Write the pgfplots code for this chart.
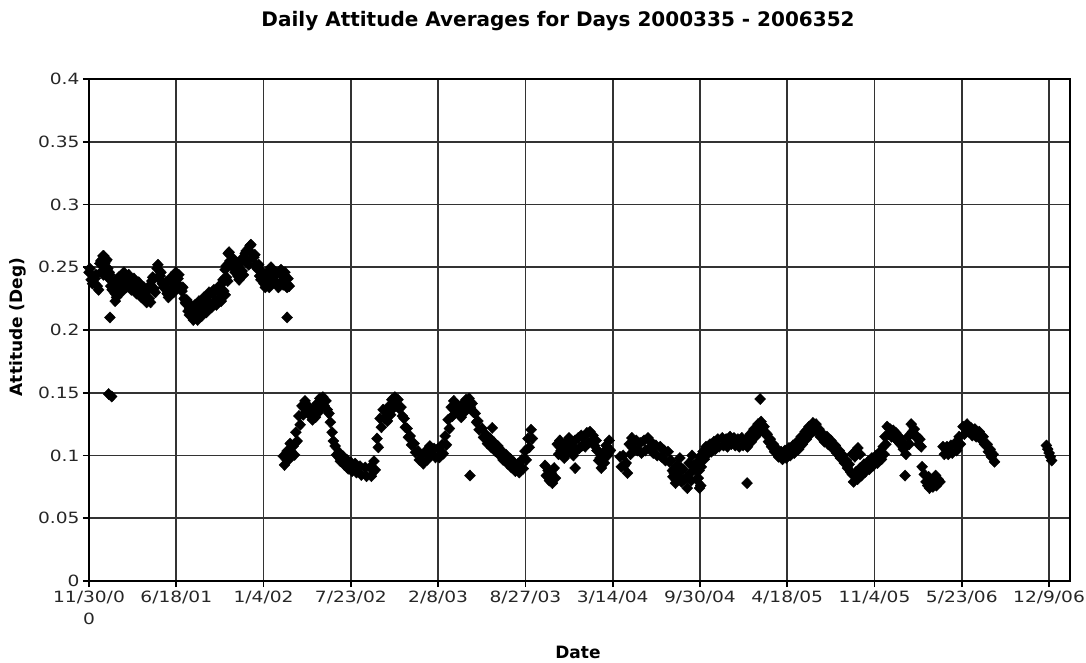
\documentclass[border=0pt]{standalone}
\usepackage{fontspec}
\setmainfont{DejaVu Sans}
\newfontfamily\tickfont{DejaVu Sans}[FakeStretch=1.2]
\usepackage{pgfplots}
\pgfplotsset{compat=1.18}
\begin{document}
\begin{tikzpicture}
\path[use as bounding box] (-89pt,-81pt) rectangle (997pt,581pt);
\begin{axis}[
  at={(0pt,0pt)}, anchor=south west,
  scale only axis, width=981pt, height=502pt,
  xmin=0, xmax=2248, ymin=0, ymax=0.4,
  xtick={0,200,400,600,800,1000,1200,1400,1600,1800,2000,2200},
  xticklabels={{11/30/0\\0},6/18/01,1/4/02,7/23/02,2/8/03,8/27/03,3/14/04,9/30/04,4/18/05,11/4/05,5/23/06,12/9/06},
  ytick={0,0.05,0.1,0.15,0.2,0.25,0.3,0.35,0.4},
  yticklabels={0,0.05,0.1,0.15,0.2,0.25,0.3,0.35,0.4},
  xticklabel style={font=\tickfont\fontsize{15.5}{22}\selectfont, align=center, text=black!85},
  yticklabel style={font=\tickfont\fontsize{15.5}{22}\selectfont, text=black!85},
  tick align=outside, tick pos=left, major tick length=6pt,
  every tick/.style={black, line width=1.7pt},
  grid=major, major grid style={black!80, line width=1.7pt},
  axis line style={black, line width=1.7pt},
  clip=false,
]
\addplot[only marks, mark=diamond*, mark size=5.6pt, black,
  mark options={xscale=1.3, fill=black, draw=black}] coordinates {
% segment 1
(0,.246)(5,.240)(14,.241)(19,.235)(25,.253)(30,.247)(32,.259)(36,.253)
(39,.255)(43,.249)(46,.241)(50,.235)(55,.235)(60,.229)(66,.239)(71,.233)
(78,.243)(83,.237)(89,.241)(94,.235)(101,.238)(106,.232)(112,.235)(117,.229)
(124,.231)(129,.225)(133,.231)(138,.225)(144,.239)(149,.233)(156,.249)(160,.243)
(163,.243)(168,.237)(174,.235)(179,.229)(186,.239)(191,.233)(197,.243)(201,.237)
(204,.241)(208,.235)(213,.231)(218,.225)(222,.221)(227,.215)(231,.217)(236,.211)
(241,.217)(246,.211)(250,.220)(255,.214)(261,.223)(266,.217)(273,.227)(278,.221)
(284,.229)(289,.223)(296,.232)(300,.226)(305,.237)(309,.231)(312,.248)(315,.242)
(319,.261)(323,.255)(328,.255)(332,.249)(337,.249)(341,.243)(346,.253)(351,.247)
(358,.261)(363,.255)(369,.267)(373,.261)(378,.258)(382,.252)(387,.249)(391,.243)
(396,.243)(401,.237)(406,.243)(410,.237)(415,.247)(420,.241)(426,.243)(431,.237)
(438,.245)(442,.239)(447,.243)(451,.237)(456,.241)(459,.235)
(2,.249)(8,.237)(16,.244)(22,.232)(27,.255)(33,.244)(34,.259)(39,.250)
(41,.256)(46,.246)(48,.244)(53,.232)(57,.238)(63,.226)(68,.242)(74,.230)
(80,.246)(86,.234)(91,.244)(97,.232)(103,.241)(109,.229)(114,.238)(120,.226)
(126,.234)(132,.222)(135,.234)(141,.222)(146,.242)(152,.230)(158,.252)(163,.240)
(165,.246)(171,.234)(176,.238)(182,.226)(188,.242)(194,.230)(199,.246)(204,.234)
(206,.244)(211,.232)(215,.234)(221,.222)(224,.224)(230,.212)(233,.220)(239,.208)
(243,.220)(249,.208)(252,.223)(258,.211)(263,.226)(269,.214)(275,.230)(281,.218)
(286,.232)(292,.220)(298,.235)(303,.223)(307,.240)(312,.228)(314,.251)(318,.239)
(321,.262)(326,.252)(330,.257)(335,.246)(339,.252)(344,.240)(348,.256)(354,.244)
(360,.263)(366,.252)(371,.268)(376,.258)(380,.260)(385,.249)(389,.252)(394,.240)
(398,.246)(404,.234)(408,.246)(413,.234)(417,.250)(423,.238)(428,.246)(434,.234)
(440,.248)(445,.236)(449,.246)(454,.234)
(45,.149)(52,.147)(48,.210)(60,.223)(454,.210)
% segment 2
(445,.0995)(448,.0925)(454,.1035)(457,.0965)(461,.1095)(464,.1025)(468,.1075)(471,.1005)
(474,.1185)(477,.1115)(481,.1315)(484,.1245)(488,.1395)(491,.1325)(495,.1435)(498,.1365)
(502,.1395)(505,.1325)(509,.1355)(512,.1285)(516,.1375)(519,.1305)(523,.1415)(526,.1345)
(529,.1455)(532,.1385)(536,.1465)(539,.1395)(543,.1435)(546,.1365)(550,.1335)(553,.1265)
(557,.1185)(560,.1115)(564,.1075)(567,.1005)(573,.1025)(576,.0955)(582,.0995)(585,.0925)
(591,.0965)(594,.0895)(600,.0945)(603,.0875)(610,.0935)(613,.0865)(621,.0915)(624,.0845)
(633,.0905)(636,.0835)(644,.0905)(647,.0835)(653,.0955)(656,.0885)(660,.1135)(663,.1065)
(667,.1295)(670,.1225)(674,.1365)(677,.1295)(681,.1345)(684,.1275)(688,.1395)(691,.1325)
(694,.1445)(697,.1375)(701,.1465)(704,.1395)(708,.1445)(711,.1375)(715,.1385)(718,.1315)
(722,.1295)(725,.1225)(729,.1215)(732,.1145)(736,.1155)(739,.1085)(745,.1095)(748,.1025)
(754,.1035)(757,.0965)(763,.1005)(766,.0935)(772,.1035)(775,.0965)(781,.1075)(784,.1005)
(791,.1055)(794,.0985)(800,.1055)(803,.0985)(809,.1085)(812,.1015)(816,.1155)(819,.1085)
(823,.1285)(826,.1215)(830,.1385)(833,.1315)(836,.1435)(839,.1365)(843,.1405)(846,.1335)
(850,.1375)(853,.1305)(857,.1415)(860,.1345)(864,.1445)(867,.1375)(871,.1455)(874,.1385)
(878,.1415)(881,.1345)(885,.1335)(888,.1265)(891,.1275)(894,.1205)(901,.1215)(904,.1145)
(910,.1165)(913,.1095)(919,.1135)(922,.1065)(928,.1105)(931,.1035)(937,.1075)(940,.1005)
(946,.1035)(949,.0965)(956,.1005)(959,.0935)(965,.0975)(968,.0905)(974,.0945)(977,.0875)
(983,.0935)(986,.0865)(992,.0965)(995,.0895)(999,.1035)(1002,.0965)(1006,.1135)(1009,.1065)
(1013,.1205)(1016,.1135)
(924,.122)(873,.084)
% segment 3
(1045,.092)(1048,.084)(1052,.088)(1055,.080)(1059,.086)(1062,.078)(1066,.090)(1069,.082)
(1073,.109)(1076,.101)(1079,.112)(1082,.104)(1086,.106)(1089,.098)(1093,.110)(1096,.102)
(1100,.114)(1103,.106)(1107,.108)(1110,.100)(1114,.112)(1117,.104)(1121,.114)(1124,.106)
(1128,.116)(1131,.108)(1134,.115)(1137,.107)(1141,.118)(1144,.110)(1148,.119)(1151,.111)
(1155,.116)(1158,.108)(1162,.112)(1164,.104)(1166,.104)(1168,.096)(1171,.098)(1174,.090)
(1178,.102)(1181,.094)(1185,.108)(1188,.100)(1192,.112)(1195,.104)
(1114,.090)
% segment 4
(1217,.099)(1220,.091)(1224,.100)(1227,.092)(1231,.094)(1234,.086)(1238,.109)(1241,.101)
(1244,.114)(1247,.106)(1254,.112)(1257,.104)(1263,.110)(1266,.102)(1272,.112)(1275,.104)
(1281,.114)(1284,.106)(1290,.110)(1293,.102)(1299,.108)(1302,.100)(1309,.107)(1312,.099)
(1318,.104)(1321,.096)(1327,.103)(1330,.095)(1334,.096)(1337,.088)(1341,.086)(1344,.078)
(1348,.092)(1351,.084)(1354,.098)(1357,.090)(1361,.089)(1364,.081)(1368,.082)(1371,.074)
(1375,.094)(1378,.086)(1382,.100)(1385,.092)(1389,.089)(1392,.081)(1396,.082)(1399,.074)
(1400,.099)(1403,.091)(1407,.103)(1410,.097)(1414,.107)(1417,.101)(1423,.109)(1426,.103)
(1338,.083)(1358,.079)(1380,.080)(1392,.094)(1398,.088)(1402,.076)
(1432,.111)(1435,.105)(1441,.113)(1444,.107)(1451,.114)(1454,.108)(1460,.113)(1463,.107)
(1469,.115)(1472,.109)(1478,.114)(1481,.108)(1487,.113)(1490,.107)(1496,.114)(1499,.108)
(1506,.113)(1509,.107)(1515,.117)(1518,.111)(1524,.121)(1527,.115)(1533,.125)(1536,.119)
(1540,.127)(1543,.121)(1547,.123)(1550,.117)(1554,.117)(1557,.111)(1561,.113)(1564,.107)
(1568,.109)(1571,.103)(1577,.105)(1580,.099)(1586,.103)(1589,.097)(1595,.104)(1598,.098)
(1604,.106)(1607,.100)(1613,.108)(1616,.102)(1623,.111)(1626,.105)(1632,.115)(1635,.109)
(1641,.119)(1644,.113)(1650,.123)(1653,.117)(1659,.126)(1662,.120)(1666,.125)(1669,.119)
(1673,.121)(1676,.115)(1682,.117)(1685,.111)(1691,.115)(1694,.109)(1700,.112)(1703,.106)
(1710,.108)(1713,.102)(1719,.104)(1722,.098)(1728,.100)(1731,.094)(1735,.096)(1738,.090)
(1742,.093)(1745,.087)
(1538,.145)(1508,.078)
(1749,.085)(1752,.079)(1758,.087)(1761,.081)(1767,.090)(1770,.084)(1776,.093)(1779,.087)
(1785,.095)(1788,.089)(1794,.098)(1797,.092)(1804,.100)(1807,.094)(1813,.103)(1816,.097)
(1820,.107)(1822,.101)
(1749,.101)(1755,.099)(1758,.104)(1762,.106)(1767,.101)
(1824,.115)(1826,.109)(1829,.123)(1832,.117)(1836,.121)(1839,.115)(1843,.120)(1846,.114)
(1849,.118)(1852,.112)(1856,.115)(1859,.109)(1863,.111)(1866,.105)(1870,.107)(1872,.101)
(1870,.084)
(1877,.115)(1880,.109)(1884,.125)(1887,.119)(1891,.121)(1894,.115)(1898,.115)(1901,.109)
(1904,.113)(1907,.107)
(1909,.091)(1914,.085)(1918,.079)(1922,.076)(1926,.074)(1930,.079)(1934,.075)(1938,.080)
(1942,.076)(1946,.081)(1950,.079)(1924,.083)(1940,.084)
(1957,.107)(1960,.101)(1966,.107)(1969,.101)(1975,.108)(1978,.102)(1985,.110)(1988,.104)
(1994,.115)(1997,.109)(2003,.123)(2006,.117)(2012,.125)(2015,.119)(2021,.122)(2024,.116)
(2030,.121)(2033,.115)(2040,.119)(2043,.113)(2049,.115)(2052,.109)(2058,.109)(2061,.103)
(2065,.105)(2068,.099)(2072,.101)(2075,.095)
% segment 5
(2194,.108)(2197,.105)(2200,.102)(2203,.099)(2206,.096)
};
\end{axis}
\node[font=\bfseries\fontsize{20}{24}\selectfont, anchor=base] at (469pt,554pt) {Daily Attitude Averages for Days 2000335 - 2006352};
\node[font=\bfseries\fontsize{17}{20}\selectfont, anchor=base] at (489pt,-77pt) {Date};
\node[font=\bfseries\fontsize{17}{20}\selectfont, rotate=90] at (-71pt,254pt) {Attitude (Deg)};
\end{tikzpicture}
\end{document}
